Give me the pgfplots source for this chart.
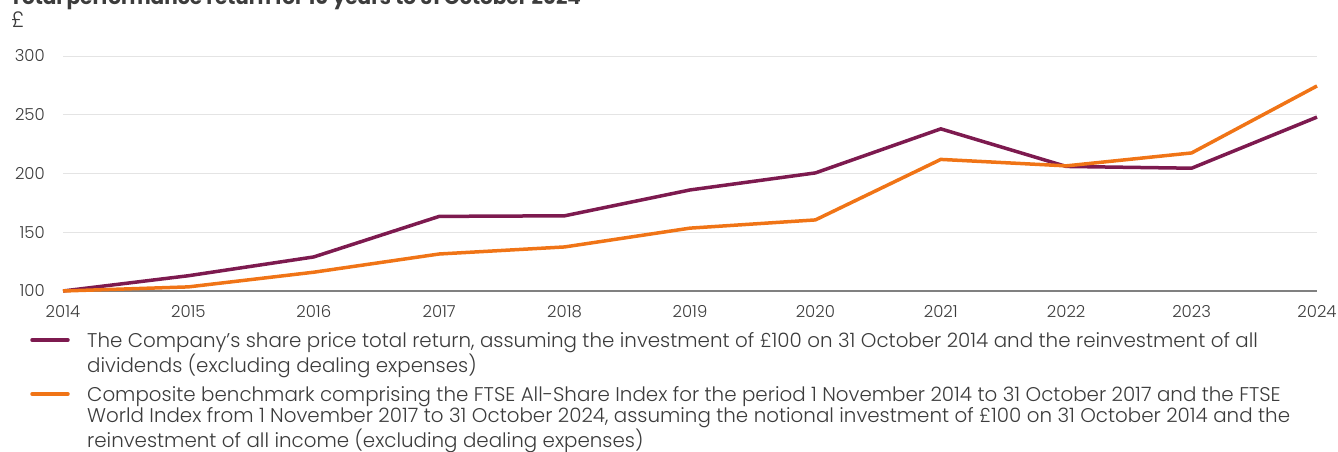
\documentclass[border=0pt]{standalone}
\usepackage{pgfplots}
\pgfplotsset{compat=1.18}
\usepackage{fontspec}
\setmainfont{Poppins}
\newfontfamily\lightfont{Poppins Light}

\definecolor{coPurple}{HTML}{7D1A4F}
\definecolor{coOrange}{HTML}{F07416}
\definecolor{txtGray}{HTML}{3C3C3C}
\definecolor{gridGray}{HTML}{E4E4E4}
\definecolor{axGray}{HTML}{808080}

\begin{document}
\begin{tikzpicture}[x=1pt,y=1pt]
\begin{axis}[
    at={(63pt,-291pt)}, anchor=south west,
    scale only axis, width=1254pt, height=235pt,
    xmin=2014, xmax=2024, ymin=100, ymax=300,
    xtick={2014,2015,...,2024}, ytick={100,150,...,300},
    axis lines*=left,
    y axis line style={draw=none},
    x axis line style={axGray, line width=2pt},
    major tick length=0pt,
    ymajorgrids, grid style={gridGray, line width=1pt},
    /pgf/number format/assume math mode=true,
    /pgf/number format/1000 sep={},
    every tick label/.append style={inner sep=0pt, text=txtGray, font=\lightfont\fontsize{16.5}{16.5}\selectfont},
    yticklabel style={anchor=east, xshift=-18pt},
    xticklabel style={anchor=north, yshift=-14pt},
    clip=false,
]
% The Company's share price total return
\addplot[coPurple, line width=3.5pt] coordinates {
    (2014,100) (2015,113) (2016,129) (2017,163.5) (2018,164)
    (2019,186) (2020,200.5) (2021,238) (2022,206) (2023,204.5) (2024,248)
};
% Composite benchmark
\addplot[coOrange, line width=3.5pt] coordinates {
    (2014,100) (2015,103.5) (2016,116) (2017,131.5) (2018,137.5)
    (2019,153.5) (2020,160.5) (2021,212) (2022,206.5) (2023,217.5) (2024,274.5)
};
\end{axis}

% title (cut off at the top in the reference)
\node[anchor=base west, inner sep=0pt, font=\bfseries\fontsize{20}{20}\selectfont, text=txtGray]
    at (10pt,-5pt) {Total performance return for 10 years to 31 October 2024};
% unit
\node[anchor=base west, inner sep=0pt, font=\lightfont\fontsize{22}{22}\selectfont, text=txtGray]
    at (11pt,-28pt) {£};

% legend
\draw[coPurple, line width=3.5pt, line cap=round] (32pt,-340pt) -- (68pt,-340pt);
\node[anchor=north west, inner sep=0pt, align=left, text=txtGray,
      font=\lightfont\fontsize{19.85}{19}\selectfont] at (87pt,-332pt)
    {The Company’s share price total return, assuming the investment of £100 on 31 October 2014 and the reinvestment of all\\
     dividends (excluding dealing expenses)};
\draw[coOrange, line width=3.5pt, line cap=round] (32pt,-394pt) -- (68pt,-394pt);
\node[anchor=north west, inner sep=0pt, align=left, text=txtGray,
      font=\lightfont\fontsize{19.85}{19}\selectfont] at (87pt,-386pt)
    {Composite benchmark comprising the FTSE All-Share Index for the period 1 November 2014 to 31 October 2017 and the FTSE\\
     World Index from 1 November 2017 to 31 October 2024, assuming the notional investment of £100 on 31 October 2014 and the\\
     reinvestment of all income (excluding dealing expenses)};

\pgfresetboundingbox
\path[use as bounding box] (0pt,0pt) rectangle (1338pt,-452pt);
\end{tikzpicture}
\end{document}
